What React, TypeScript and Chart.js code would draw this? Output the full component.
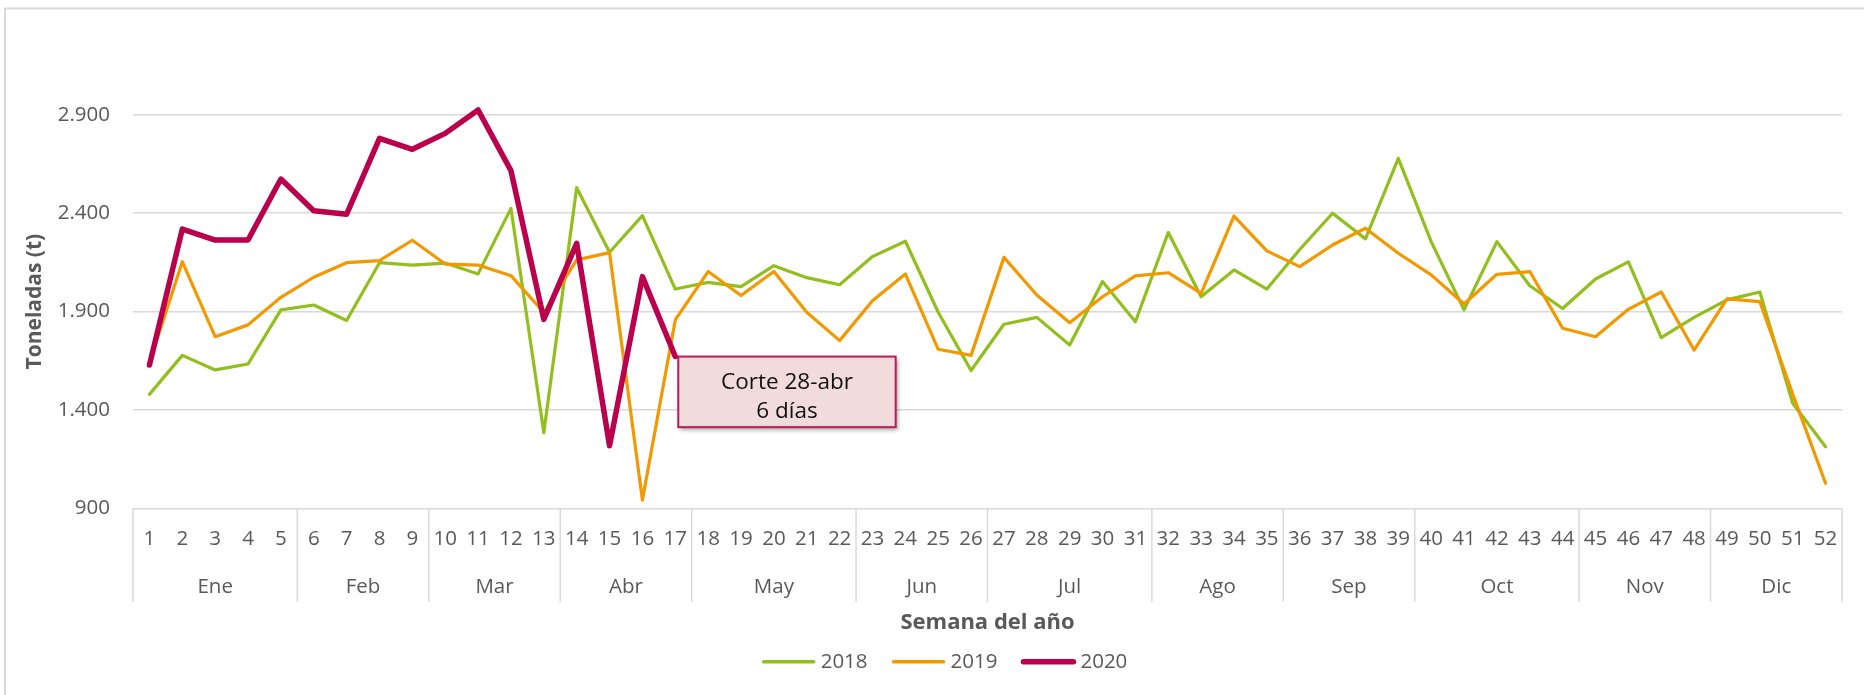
import React, { useEffect, useRef } from "react";
import { Chart, registerables } from "chart.js";

Chart.register(...registerables);

// Week numbers shown on the category axis
const weeks = [
  "1", "2", "3", "4", "5", "6", "7", "8", "9", "10", "11", "12", "13",
  "14", "15", "16", "17", "18", "19", "20", "21", "22", "23", "24", "25", "26",
  "27", "28", "29", "30", "31", "32", "33", "34", "35", "36", "37", "38", "39",
  "40", "41", "42", "43", "44", "45", "46", "47", "48", "49", "50", "51", "52",
];

// Month groups under the week numbers
const monthNames = ["Ene", "Feb", "Mar", "Abr", "May", "Jun", "Jul", "Ago", "Sep", "Oct", "Nov", "Dic"];
const weeksPerMonth = [5, 4, 4, 4, 5, 4, 5, 4, 4, 5, 4, 4];

// Tonnes per week
const tons2018 = [
  1479, 1677, 1603, 1633, 1908, 1933, 1854, 2148, 2136, 2146, 2091, 2424, 1284,
  2529, 2201, 2387, 2014, 2048, 2026, 2133, 2072, 2036, 2179, 2257, 1896, 1600,
  1835, 1870, 1730, 2052, 1848, 2301, 1975, 2111, 2014, 2215, 2399, 2269, 2678,
  2255, 1908, 2255, 2031, 1915, 2065, 2152, 1767, 1870, 1959, 1999, 1434, 1213,
];
const tons2019 = [
  1640, 2153, 1772, 1832, 1972, 2074, 2148, 2158, 2262, 2141, 2136, 2082, 1895,
  2162, 2199, 942, 1857, 2103, 1981, 2103, 1896, 1752, 1955, 2091, 1708, 1677,
  2175, 1984, 1843, 1975, 2081, 2097, 1992, 2385, 2208, 2128, 2238, 2323, 2196,
  2086, 1938, 2089, 2103, 1815, 1772, 1911, 1999, 1704, 1964, 1950, 1480, 1027,
];
const tons2020 = [
  1628, 2319, 2263, 2263, 2573, 2412, 2394, 2780, 2724, 2805, 2924, 2616, 1860,
  2246, 1218, 2077, 1671,
];

const seriesNames = ["2018", "2019", "2020"];
const yTickValues = [900, 1400, 1900, 2400, 2900];
const yMin = 900;
const yMax = 3000;

const noteLines = ["Corte 28-abr", "6 días"];

const FONT = '"Open Sans", "Noto Sans", sans-serif';
const GREY_TEXT = "#595959";
const GRID = "#d9d9d9";

const fmt = (v: number) => String(Math.round(v)).replace(/\B(?=(\d{3})+(?!\d))/g, ".");

// Outer frame and white background
const framePlugin = {
  id: "frame",
  beforeDraw(chart: any) {
    const { ctx, width, height } = chart;
    ctx.save();
    ctx.fillStyle = "#ffffff";
    ctx.fillRect(0, 0, width, height);
    ctx.strokeStyle = GRID;
    ctx.lineWidth = 2;
    ctx.beginPath();
    ctx.moveTo(5, height);
    ctx.lineTo(5, 8.5);
    ctx.lineTo(width, 8.5);
    ctx.stroke();
    ctx.restore();
  },
};

// Month band below the week numbers, with separators
const monthAxisPlugin = {
  id: "monthAxis",
  afterDraw(chart: any) {
    const { ctx, chartArea } = chart;
    const x = chart.scales.x;
    const half = (x.getPixelForValue(1) - x.getPixelForValue(0)) / 2;
    const top = chartArea.bottom;
    const sepBottom = top + 93.4;
    ctx.save();
    ctx.strokeStyle = GRID;
    ctx.lineWidth = 1.5;
    const vline = (px: number) => {
      ctx.beginPath();
      ctx.moveTo(px, top);
      ctx.lineTo(px, sepBottom);
      ctx.stroke();
    };
    let start = 0;
    vline(x.getPixelForValue(0) - half);
    ctx.fillStyle = GREY_TEXT;
    ctx.font = `20.5px ${FONT}`;
    ctx.textAlign = "center";
    ctx.textBaseline = "middle";
    monthNames.forEach((name, i) => {
      const end = start + weeksPerMonth[i];
      const left = x.getPixelForValue(start) - half;
      const right = x.getPixelForValue(end - 1) + half;
      vline(right);
      ctx.fillText(name, (left + right) / 2, top + 78.4);
      start = end;
    });
    ctx.restore();
  },
};

// Legend drawn from the datasets below the axis title
const legendPlugin = {
  id: "lineLegend",
  afterDraw(chart: any) {
    const { ctx } = chart;
    const sets = chart.data.datasets;
    const lineLen = 54;
    const gap = 5;
    const itemGap = 24;
    ctx.save();
    ctx.font = `20.5px ${FONT}`;
    const widths = sets.map((d: any) => ctx.measureText(d.label).width);
    const total =
      widths.reduce((a: number, b: number) => a + b, 0) +
      sets.length * (lineLen + gap) +
      (sets.length - 1) * itemGap;
    let cx = 944.5 - total / 2;
    const cy = 661.7;
    ctx.textBaseline = "middle";
    ctx.textAlign = "left";
    sets.forEach((d: any, i: number) => {
      ctx.strokeStyle = d.borderColor;
      ctx.lineWidth = i === 2 ? 5.5 : 3.5;
      ctx.lineCap = "round";
      ctx.beginPath();
      ctx.moveTo(cx + 2, cy);
      ctx.lineTo(cx + lineLen - 2, cy);
      ctx.stroke();
      cx += lineLen + gap;
      ctx.fillStyle = GREY_TEXT;
      ctx.fillText(d.label, cx, cy);
      cx += widths[i] + itemGap;
    });
    ctx.restore();
  },
};

// Callout anchored at the last 2020 point
const notePlugin = {
  id: "cutNote",
  afterDatasetsDraw(chart: any) {
    const { ctx } = chart;
    const meta = chart.getDatasetMeta(2);
    const pt = meta.data[tons2020.length - 1];
    if (!pt) return;
    const bx = pt.x + 3;
    const by = pt.y;
    const bw = 217.4;
    const bh = 70.6;
    ctx.save();
    ctx.shadowColor = "rgba(0,0,0,0.35)";
    ctx.shadowBlur = 4;
    ctx.shadowOffsetX = 2;
    ctx.shadowOffsetY = 2.5;
    ctx.fillStyle = "#F2DCDB";
    ctx.fillRect(bx, by, bw, bh);
    ctx.shadowColor = "transparent";
    ctx.strokeStyle = "#BE1A5A";
    ctx.lineWidth = 2;
    ctx.strokeRect(bx, by, bw, bh);
    ctx.fillStyle = "#111111";
    ctx.font = `22.5px ${FONT}`;
    ctx.textAlign = "center";
    ctx.textBaseline = "middle";
    ctx.fillText(noteLines[0], bx + bw / 2, by + 26);
    ctx.fillText(noteLines[1], bx + bw / 2, by + 55);
    ctx.restore();
  },
};

export default function App() {
  const canvasRef = useRef<HTMLCanvasElement | null>(null);

  useEffect(() => {
    let chart: Chart | null = null;
    let cancelled = false;

    const build = () => {
      if (cancelled || !canvasRef.current) return;
      chart = new Chart(canvasRef.current, {
        type: "line",
        data: {
          labels: weeks,
          datasets: [
            {
              label: seriesNames[0],
              data: tons2018,
              borderColor: "#92BE1E",
              borderWidth: 3.2,
              order: 3,
            },
            {
              label: seriesNames[1],
              data: tons2019,
              borderColor: "#F29800",
              borderWidth: 3.2,
              order: 2,
            },
            {
              label: seriesNames[2],
              data: tons2020,
              borderColor: "#BA004C",
              borderWidth: 5.5,
              order: 1,
            },
          ].map((d) => ({
            ...d,
            fill: false,
            tension: 0,
            pointRadius: 0,
            pointHoverRadius: 0,
            borderJoinStyle: "round" as const,
            borderCapStyle: "round" as const,
          })),
        },
        options: {
          responsive: false,
          devicePixelRatio: 1,
          animation: false,
          events: [],
          layout: { padding: { top: 95, right: 22, bottom: 0, left: 0 } },
          plugins: {
            legend: { display: false },
            tooltip: { enabled: false },
          },
          scales: {
            x: {
              type: "category",
              offset: true,
              grid: { display: false, drawTicks: false },
              border: { display: false },
              ticks: {
                autoSkip: false,
                maxRotation: 0,
                minRotation: 0,
                padding: 19,
                color: GREY_TEXT,
                font: { family: FONT, size: 20.5 },
              },
              title: {
                display: true,
                text: "Semana del año",
                color: GREY_TEXT,
                font: { family: FONT, size: 22, weight: "bold" },
                padding: { top: 0, bottom: 58.8 },
              },
              afterFit: (s: any) => {
                s.height = 186.7;
              },
            },
            y: {
              min: yMin,
              max: yMax,
              grid: { color: GRID, lineWidth: 1.5, drawTicks: false },
              border: { display: false },
              afterBuildTicks: (s: any) => {
                s.ticks = yTickValues.map((v) => ({ value: v }));
              },
              ticks: {
                padding: 23,
                color: GREY_TEXT,
                font: { family: FONT, size: 20.5 },
                callback: (v: any) => fmt(Number(v)),
              },
              title: {
                display: true,
                text: "Toneladas (t)",
                color: GREY_TEXT,
                font: { family: FONT, size: 21, weight: "bold" },
                padding: { top: 22, bottom: 0 },
              },
              afterFit: (s: any) => {
                s.width = 133;
              },
            },
          },
        },
        plugins: [framePlugin, monthAxisPlugin, legendPlugin, notePlugin],
      } as any);
    };

    const fonts = (document as any).fonts;
    if (fonts && fonts.load) {
      Promise.all([
        fonts.load(`20px "Open Sans"`),
        fonts.load(`bold 20px "Open Sans"`),
      ]).then(build, build);
    } else {
      build();
    }

    return () => {
      cancelled = true;
      if (chart) chart.destroy();
    };
  }, []);

  return (
    <div style={{ position: "fixed", left: 0, top: 0, width: 1864, height: 695, background: "#fff" }}>
      <canvas ref={canvasRef} width={1864} height={695} style={{ display: "block" }} />
    </div>
  );
}
